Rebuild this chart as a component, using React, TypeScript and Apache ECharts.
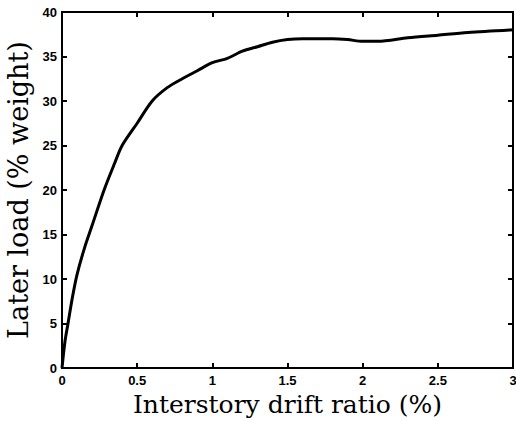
import React, { useEffect, useRef } from "react";
import * as echarts from "echarts";

const driftRatio = [0, 0.02, 0.04, 0.07, 0.1, 0.15, 0.2, 0.28, 0.35, 0.4, 0.5, 0.6, 0.7, 0.8, 0.9, 1.0, 1.1, 1.2, 1.3, 1.4, 1.5, 1.6, 1.8, 1.9, 2.0, 2.1, 2.3, 2.5, 2.7, 3.0];
const lateralLoad = [0, 3, 5, 8, 10.5, 13.5, 16, 20, 23, 25, 27.5, 30, 31.5, 32.5, 33.4, 34.3, 34.8, 35.6, 36.1, 36.6, 36.9, 37, 37, 36.9, 36.7, 36.7, 37.1, 37.4, 37.7, 38];
const xTitle = "Interstory drift ratio (%)";
const yTitle = "Later load (% weight)";

export default function App() {
  const ref = useRef<HTMLDivElement>(null);
  useEffect(() => {
    if (!ref.current) return;
    const chart = echarts.init(ref.current, null, { renderer: "svg" });
    const tickLabel = () => ({ color: "#000", fontFamily: "Liberation Sans", fontWeight: "bold", fontSize: 13 });
    const axisLine = () => ({ show: true, onZero: false, lineStyle: { color: "#000000", width: 2, type: "solid" } });
    const axisTick = () => ({ show: true, inside: true, length: 5, lineStyle: { color: "#000000", width: 2, type: "solid" } });
    chart.setOption({
      animation: false,
      backgroundColor: "#ffffff",
      grid: {
        left: 62, right: 3, top: 12, bottom: 53, outerBoundsMode: "none", containLabel: false,
        show: true, borderColor: "#000000", borderWidth: 2, backgroundColor: "transparent",
      },
      xAxis: [
        {
          type: "value", min: 0, max: 3, interval: 0.5, position: "bottom",
          axisLine: axisLine(), axisTick: axisTick(), splitLine: { show: false },
          axisLabel: { ...tickLabel(), margin: 6 },
          name: xTitle, nameLocation: "middle", nameGap: 23,
          nameTextStyle: { color: "#000", fontFamily: "DejaVu Serif", fontSize: 25 },
        },
        {
          type: "value", min: 0, max: 3, interval: 0.5, position: "top",
          axisLine: axisLine(), axisTick: axisTick(), splitLine: { show: false }, axisLabel: { show: false },
        },
      ],
      yAxis: [
        {
          type: "value", min: 0, max: 40, interval: 5, position: "left",
          axisLine: axisLine(), axisTick: axisTick(), splitLine: { show: false },
          axisLabel: { ...tickLabel(), margin: 5 },
          name: yTitle, nameLocation: "middle", nameGap: 25,
          nameTextStyle: { color: "#000", fontFamily: "DejaVu Serif", fontSize: 27 },
        },
        {
          type: "value", min: 0, max: 40, interval: 5, position: "right",
          axisLine: axisLine(), axisTick: axisTick(), splitLine: { show: false }, axisLabel: { show: false },
        },
      ],
      series: [
        {
          type: "line",
          data: driftRatio.map((x, i) => [x, lateralLoad[i]]),
          showSymbol: false,
          smooth: 0.3,
          lineStyle: { color: "#000", width: 3 },
        },
      ],
    });
    return () => chart.dispose();
  }, []);
  return <div ref={ref} style={{ position: "fixed", left: 0, top: 0, width: 516, height: 421 }} />;
}
